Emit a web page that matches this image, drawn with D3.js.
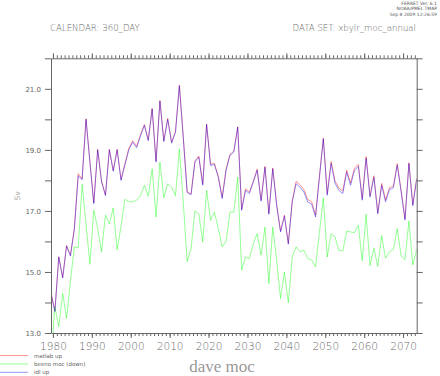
<!DOCTYPE html>
<html>
<head>
<meta charset="utf-8">
<script src="https://cdn.jsdelivr.net/npm/d3@7"></script>
<style>
  html,body{margin:0;padding:0;background:#fff;}
  svg{display:block;font-family:"DejaVu Sans",sans-serif;}
</style>
</head>
<body>
<svg id="chart" width="440" height="376"></svg>
<script>
// annual values, one per year 1979..2073 (plotted at mid-year)
const years=d3.range(1979,2074);

const idlUp=[14.30,13.70,15.49,14.80,15.85,15.52,16.40,18.15,18.02,20.00,
  18.60,17.24,19.00,17.95,17.50,19.00,18.30,19.00,18.00,18.50,
  19.00,19.25,19.07,19.45,19.80,19.30,20.34,18.60,20.60,19.27,
  20.00,19.22,19.58,21.10,19.40,17.60,17.53,18.60,18.76,17.84,
  19.83,18.49,18.52,18.10,17.40,18.33,18.82,18.93,19.74,17.02,
  17.67,17.57,17.94,18.33,17.32,18.43,16.89,18.38,17.18,16.31,
  16.83,15.91,17.29,17.89,17.78,17.62,17.29,17.22,16.80,18.10,
  19.36,17.51,18.55,17.91,17.67,17.57,18.27,17.84,18.33,18.46,
  17.35,18.73,17.45,18.10,16.90,17.84,17.30,17.70,17.75,18.50,
  17.62,16.70,18.55,17.17,18.04];

const matlabUp=[14.32,13.72,15.50,14.82,15.87,15.55,16.42,18.22,18.05,20.02,
  18.62,17.26,19.02,17.97,17.52,19.02,18.32,19.02,18.03,18.55,
  19.05,19.30,19.12,19.50,19.83,19.33,20.36,18.63,20.62,19.30,
  20.03,19.25,19.61,21.12,19.42,17.63,17.56,18.64,18.80,17.88,
  19.85,18.53,18.56,18.14,17.45,18.37,18.85,18.96,19.76,17.05,
  17.72,17.62,17.98,18.37,17.35,18.46,16.92,18.41,17.21,16.34,
  16.86,15.94,17.33,17.97,17.86,17.70,17.37,17.30,16.86,18.14,
  19.39,17.56,18.62,17.98,17.75,17.65,18.34,17.91,18.40,18.52,
  17.40,18.78,17.50,18.15,16.94,17.90,17.36,17.76,17.81,18.55,
  17.67,16.74,18.58,17.20,18.07];

const beenoDown=[12.10,13.86,13.21,14.30,13.48,14.70,15.82,15.80,17.87,16.58,
  15.25,17.02,16.42,15.66,16.86,16.58,17.10,15.73,16.50,17.38,
  17.30,17.30,17.35,17.50,17.84,17.48,18.38,16.80,18.60,17.43,
  17.88,17.78,17.50,19.03,17.30,15.34,15.77,17.00,16.90,15.98,
  17.67,16.69,16.96,16.42,15.82,16.00,16.96,16.96,18.11,15.06,
  15.49,15.44,15.93,16.26,15.55,16.47,14.62,16.47,15.39,14.13,
  15.00,13.99,15.49,15.82,15.66,15.71,15.44,15.39,15.17,16.30,
  17.43,15.49,16.26,16.15,15.71,15.69,16.34,16.31,16.29,16.53,
  15.37,16.89,15.21,15.77,15.18,16.19,15.45,15.66,15.74,16.42,
  15.52,15.40,16.67,15.23,15.74];

const yTicks=d3.range(13,23,1);
const yLabels=[13,15,17,19,21];
const xMajor=d3.range(1980,2080,10);
const xMinor=d3.range(1980,2074,1);

const series=[
  {name:"matlab up",values:matlabUp,color:"#ff0000"},
  {name:"beeno moc (down)",values:beenoDown,color:"#00ff00"},
  {name:"idl up",values:idlUp,color:"#0000ff"}
];

const svg=d3.select("#chart");
const m={top:58.3,right:23.3,bottom:43,left:51};
const W=440,H=376;

const x=d3.scaleLinear().domain([1979.5,2073.5]).range([m.left,W-m.right]);
const y=d3.scaleLinear().domain([13,22]).range([H-m.bottom,m.top]);

svg.append("defs").append("clipPath").attr("id","plotclip")
  .append("rect")
  .attr("x",m.left).attr("y",m.top)
  .attr("width",W-m.right-m.left).attr("height",H-m.bottom-m.top);

// lines
const line=d3.line().x((d,i)=>x(years[i]+0.5)).y(d=>y(d));
const g=svg.append("g").attr("clip-path","url(#plotclip)");
series.forEach(s=>{
  g.append("path")
    .datum(s.values)
    .attr("fill","none")
    .attr("stroke",s.color)
    .attr("stroke-opacity",0.42)
    .attr("stroke-width",1)
    .attr("d",line);
});

// axes
const axisColor="#666";
const txtColor="#666";
function styleAxis(sel){
  sel.select(".domain").attr("stroke",axisColor);
  sel.selectAll(".tick line").attr("stroke",axisColor);
  sel.selectAll(".tick text").attr("fill",txtColor);
}

const xMaj=xMajor.filter(v=>v<=2073);

const axBottom=svg.append("g").attr("transform",`translate(0,${H-m.bottom})`);
axBottom.call(d3.axisBottom(x).tickValues(xMinor).tickSize(3).tickSizeOuter(0).tickFormat(""))
  .call(styleAxis);
axBottom.append("g").call(d3.axisBottom(x).tickValues(xMaj).tickSize(5).tickSizeOuter(0).tickFormat(d3.format("d")))
  .call(sel=>{
    sel.select(".domain").remove();
    sel.selectAll(".tick line").attr("stroke",axisColor);
    sel.selectAll(".tick text").attr("fill",txtColor).attr("dy","0.9em")
      .style("font-size","10.5px").style("font-family","DejaVu Sans").style("font-weight","200");
  });

const axTop=svg.append("g").attr("transform",`translate(0,${m.top})`);
axTop.call(d3.axisTop(x).tickValues(xMinor).tickSize(3).tickSizeOuter(0).tickFormat(""))
  .call(styleAxis);
axTop.append("g").call(d3.axisTop(x).tickValues(xMaj).tickSize(5).tickSizeOuter(0).tickFormat(""))
  .call(sel=>{sel.select(".domain").remove();sel.selectAll(".tick line").attr("stroke",axisColor);});

const axLeft=svg.append("g").attr("transform",`translate(${m.left},0)`);
axLeft.call(d3.axisLeft(y).tickValues(yTicks).tickSize(6).tickSizeOuter(0)
    .tickFormat(d=>yLabels.includes(d)?d3.format(".1f")(d):""))
  .call(styleAxis)
  .call(sel=>sel.selectAll(".tick text").attr("x",-10)
    .style("font-size","7px").style("font-family","DejaVu Sans"));

const axRight=svg.append("g").attr("transform",`translate(${W-m.right},0)`);
axRight.call(d3.axisRight(y).tickValues(yTicks).tickSize(6).tickSizeOuter(0).tickFormat(""))
  .call(styleAxis);

// axis title
svg.append("text")
  .attr("transform",`translate(20,196) rotate(-90)`)
  .attr("text-anchor","middle")
  .style("font-size","7.5px")
  .attr("fill","#aaa")
  .text("Sv");

// header texts
svg.append("text").attr("x",50).attr("y",31)
  .style("font-size","8.6px").style("font-weight","200").attr("fill",txtColor).text("CALENDAR: 360_DAY");
svg.append("text").attr("x",416).attr("y",31).attr("text-anchor","end")
  .style("font-size","8.6px").style("font-weight","200").attr("fill",txtColor).text("DATA SET: xbylr_moc_annual");

const stamp=["FERRET Ver. 6.1","NOAA/PMEL TMAP","Sep  8 2009 12:26:59"];
svg.selectAll(".stamp").data(stamp).enter().append("text")
  .attr("class","stamp")
  .attr("x",437).attr("y",(d,i)=>4.5+i*5.5)
  .attr("text-anchor","end")
  .style("font-size","4.5px").attr("fill","#555")
  .text(d=>d);

// legend
const leg=svg.append("g");
series.forEach((s,i)=>{
  const ly=355.5+i*8.4;
  leg.append("line").attr("x1",0).attr("x2",28).attr("y1",ly).attr("y2",ly)
    .attr("stroke",s.color).attr("stroke-opacity",0.42).attr("stroke-width",1);
  leg.append("text").attr("x",34).attr("y",ly+2).style("font-size","5.5px").attr("fill",txtColor).text(s.name);
});

// title at bottom
svg.append("text").attr("x",222).attr("y",372)
  .attr("text-anchor","middle")
  .style("font-family","'Liberation Serif', 'DejaVu Serif', serif")
  .style("font-size","17px").attr("fill","#999")
  .text("dave moc");
</script>
</body>
</html>
